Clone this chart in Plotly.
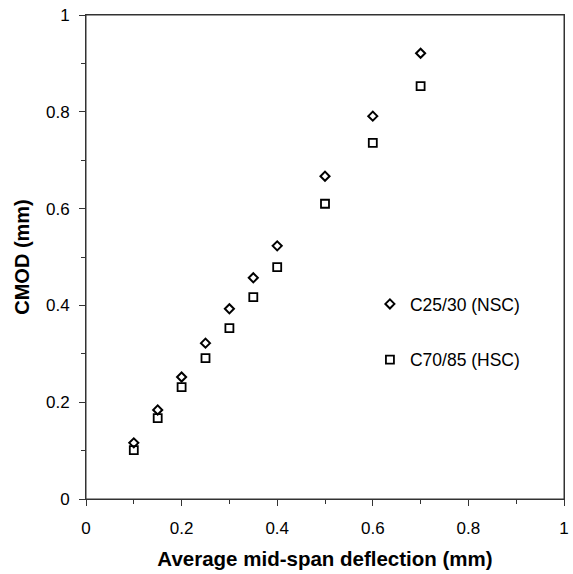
import plotly.graph_objects as go

deflection = [0.1, 0.15, 0.2, 0.25, 0.3, 0.35, 0.4, 0.5, 0.6, 0.7]
cmod_nsc = [0.116, 0.184, 0.252, 0.322, 0.393, 0.457, 0.523, 0.667, 0.791, 0.921]
cmod_hsc = [0.101, 0.167, 0.231, 0.291, 0.353, 0.417, 0.479, 0.610, 0.736, 0.853]
tick_vals = [0, 0.2, 0.4, 0.6, 0.8, 1]
tick_text = ["0", "0.2", "0.4", "0.6", "0.8", "1"]

FONT = "Liberation Sans, Arial"

fig = go.Figure()
fig.add_trace(go.Scatter(
    x=deflection, y=cmod_nsc, mode="markers", name="C25/30 (NSC)",
    legendgroup="a",
    marker=dict(symbol="diamond-open", size=7, color="black", line=dict(width=2, color="black")),
))
fig.add_trace(go.Scatter(
    x=deflection, y=cmod_hsc, mode="markers", name="C70/85 (HSC)",
    legendgroup="b",
    marker=dict(symbol="square-open", size=8, color="black", line=dict(width=1.8, color="black")),
))

axis_common = dict(
    range=[0, 1], tickvals=tick_vals, ticktext=tick_text,
    showline=True, mirror=True, linecolor="#333", linewidth=1,
    ticks="outside", ticklen=6, tickcolor="#333", tickwidth=1,
    minor=dict(dtick=0.1, ticks="outside", ticklen=4, tickcolor="#333", showgrid=False),
    showgrid=False, zeroline=False, automargin=False, ticklabeloverflow="allow",
    tickfont=dict(family=FONT, size=17, color="black"),
)

fig.update_layout(
    width=573, height=574,
    margin=dict(l=86, r=9, t=15, b=75, autoexpand=False),
    paper_bgcolor="white", plot_bgcolor="white",
    xaxis=dict(**axis_common, ticklabelstandoff=8,
               title=dict(text="<b>Average mid-span deflection (mm)</b>", standoff=14,
                          font=dict(family=FONT, size=20.5, color="black"))),
    yaxis=dict(**axis_common, ticklabelstandoff=6,
               title=dict(text="<b>CMOD (mm)</b>", standoff=10,
                          font=dict(family=FONT, size=20, color="black"))),
    legend=dict(x=0.594, y=0.44, xanchor="left", yanchor="top",
                font=dict(family=FONT, size=17.5, color="black"),
                tracegroupgap=30, bgcolor="rgba(0,0,0,0)", itemwidth=30),
    showlegend=True,
    shapes=[dict(type="rect", xref="paper", yref="paper", x0=0, x1=1, y0=0, y1=1,
                 line=dict(color="#333", width=1), fillcolor="rgba(0,0,0,0)", layer="above")],
)

fig.write_html("out.html", config={"displayModeBar": False},
               post_script="document.body.style.margin='0';")
